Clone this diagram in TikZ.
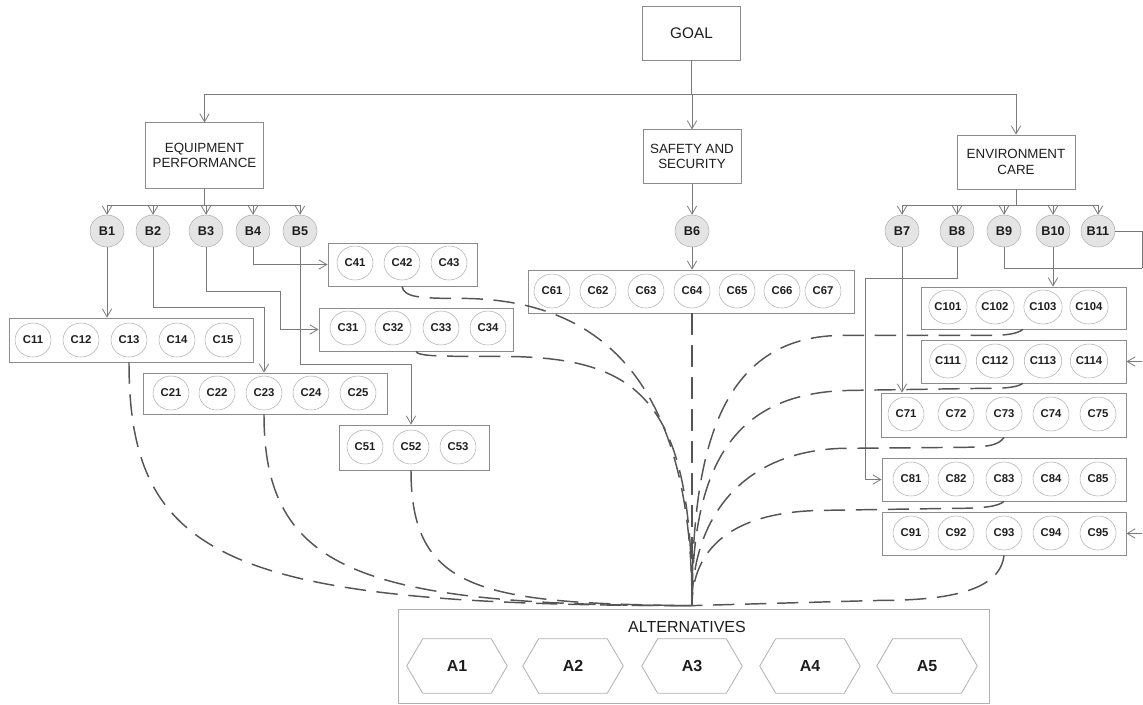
\documentclass[tikz,border=0pt]{standalone}
\usepackage{fontspec}
\setmainfont{Liberation Sans}
\usetikzlibrary{arrows.meta,calc,shapes.geometric}
\definecolor{linegray}{HTML}{7A7A7A}
\definecolor{boxgray}{HTML}{8C8C8C}
\definecolor{ringgray}{HTML}{B0B0B0}
\definecolor{bfill}{HTML}{E4E4E4}
\definecolor{dashgray}{HTML}{555555}
\definecolor{txt}{HTML}{1E1E1E}
\tikzset{
  every node/.style={text=txt},
  mainbox/.style={draw=boxgray, line width=0.6pt, rectangle, align=center, inner sep=0pt, font=\fontsize{10}{11.8}\selectfont},
  bnode/.style={draw=ringgray, fill=bfill, ellipse, minimum width=25.5pt, minimum height=24pt, inner sep=0pt, font=\bfseries\fontsize{9.5}{10}\selectfont},
  cnode/.style={draw=ringgray, ellipse, minimum width=27pt, minimum height=25.5pt, inner sep=0pt, font=\bfseries\fontsize{8.5}{9}\selectfont},
  cbox/.style={draw=boxgray, line width=0.6pt, rectangle, inner sep=0pt},
  conn/.style={draw=linegray, line width=0.6pt},
  arr/.style={conn, -{Straight Barb[length=6pt,width=7pt]}},
  dsh/.style={draw=dashgray, line width=1.1pt, dash pattern=on 16pt off 8pt},
  hexn/.style={minimum width=75pt, minimum height=40.5pt, inner sep=0pt, font=\bfseries\fontsize{12}{14}\selectfont},
  hexline/.style={draw=ringgray, line width=0.6pt},
}
\begin{document}
\begin{tikzpicture}[x=0.75pt, y=-0.75pt]
\useasboundingbox (0,0) rectangle (1143,704);

% top level
\node[mainbox, minimum width=74pt, minimum height=40.5pt, font=\fontsize{11.5}{13}\selectfont] (GOAL) at (691.5,33) {GOAL};
\node[mainbox, minimum width=89pt, minimum height=49pt] (EP) at (204.5,155.5) {EQUIPMENT\\PERFORMANCE};
\node[mainbox, minimum width=73.5pt, minimum height=40pt] (SAS) at (692,156.5) {SAFETY AND\\SECURITY};
\node[mainbox, minimum width=88.5pt, minimum height=40.5pt] (EC) at (1016,162) {ENVIRONMENT\\CARE};

\coordinate (busL) at (204.5,94);
\coordinate (busR) at (1016,94);
\draw[conn] (busL) -- (busR);
\draw[conn] (GOAL.south) -- (GOAL.south |- busL);
\draw[arr] (busL) -- (EP.north);
\draw[arr] (SAS.north |- busL) -- (SAS.north);
\draw[arr] (busR) -- (EC.north);

% B nodes
\foreach \n/\x in {1/107,2/153,3/206,4/253,5/300,6/692,7/902,8/957,9/1004,10/1053,11/1098}
  \node[bnode] (B\n) at (\x,231) {B\n};

\coordinate (epbus) at (0,205);
\draw[conn] (EP.south) -- (EP.south |- epbus);
\draw[conn] (B1.north |- epbus) -- (B5.north |- epbus);
\foreach \b in {B1,B2,B3,B4,B5} \draw[arr] (\b.north |- epbus) -- (\b.north);
\draw[conn] (EC.south) -- (EC.south |- epbus);
\draw[conn] (B7.north |- epbus) -- (B11.north |- epbus);
\foreach \b in {B7,B8,B9,B10,B11} \draw[arr] (\b.north |- epbus) -- (\b.north);
\draw[arr] (SAS.south) -- (B6.north);

% C boxes
\node[cbox, minimum width=183pt, minimum height=33pt] (C1box) at (131,340) {};
\node[cbox, minimum width=183pt, minimum height=30.75pt] (C2box) at (265,393.5) {};
\node[cbox, minimum width=145.5pt, minimum height=32.25pt] (C3box) at (416,329.5) {};
\node[cbox, minimum width=111.75pt, minimum height=32.25pt] (C4box) at (402.5,264.5) {};
\node[cbox, minimum width=112.5pt, minimum height=33.75pt] (C5box) at (414,447.5) {};
\node[cbox, minimum width=244.5pt, minimum height=32.25pt] (C6box) at (691,291.5) {};
\node[cbox, minimum width=153.75pt, minimum height=31.5pt] (C10box) at (1023.5,308) {};
\node[cbox, minimum width=153.75pt, minimum height=32.25pt] (C11box) at (1023.5,361.5) {};
\node[cbox, minimum width=183.75pt, minimum height=33pt] (C7box) at (1003.5,415) {};
\node[cbox, minimum width=183pt, minimum height=32.25pt] (C8box) at (1004,479.5) {};
\node[cbox, minimum width=183pt, minimum height=32.25pt] (C9box) at (1004,533.5) {};

% C circles
\foreach \n/\x in {11/33,12/81,13/129,14/177,15/223} \node[cnode] (C\n) at (\x,340) {C\n};
\foreach \n/\x in {21/171,22/217,23/264,24/311,25/358} \node[cnode] (C\n) at (\x,393) {C\n};
\foreach \n/\x in {31/348,32/393,33/441,34/488} \node[cnode] (C\n) at (\x,328) {C\n};
\foreach \n/\x in {41/355,42/402,43/449} \node[cnode] (C\n) at (\x,263) {C\n};
\foreach \n/\x in {51/365,52/411,53/458} \node[cnode] (C\n) at (\x,447) {C\n};
\foreach \n/\x in {61/552,62/598,63/646,64/692,65/737,66/782,67/823} \node[cnode] (C\n) at (\x,291) {C\n};
\foreach \n/\x in {101/948,102/995,103/1043,104/1089} \node[cnode] (C\n) at (\x,307) {C\n};
\foreach \n/\x in {111/948,112/995,113/1043,114/1089} \node[cnode] (C\n) at (\x,361) {C\n};
\foreach \n/\x in {71/906,72/956,73/1004,74/1051,75/1098} \node[cnode] (C\n) at (\x,414) {C\n};
\foreach \n/\x in {81/911,82/956,83/1004,84/1051,85/1098} \node[cnode] (C\n) at (\x,479) {C\n};
\foreach \n/\x in {91/911,92/956,93/1004,94/1051,95/1098} \node[cnode] (C\n) at (\x,533) {C\n};

% B to C connectors
\draw[arr] (B1) -- (B1 |- C1box.north);
\draw[arr] (B2.south) -- (B2.south |- 0,307) -| (C2box.north -| C23);
\draw[arr] (B3.south) -- (B3.south |- 0,291) -| ($(C3box.west)+(-38,0)$) -- (C3box.west);
\draw[arr] (B4.south) |- (C4box.west);
\draw[arr] (B5.south) -- (B5.south |- 0,364) -| (C5box.north -| C52);
\draw[arr] (B6) -- (B6 |- C6box.north);
\draw[arr] (B7) -- (B7 |- C7box.north);
\draw[arr] (B8.south) -- (B8.south |- 0,278) -| ($(C8box.west)+(-16,0)$) -- (C8box.west);
\coordinate (rt) at (1142,268);
\draw[conn] (B9.south) |- (rt);
\draw[conn] (B11.east) -| (rt);
\draw[arr] (B10) -- (B10 |- C10box.north);
\draw[arr] (C11box.east -| rt) -- (C11box.east);
\draw[arr] (C9box.east -| rt) -- (C9box.east);

% alternatives
\node[draw=ringgray, line width=0.6pt, minimum width=443.25pt, minimum height=70.5pt, inner sep=0pt] (alt) at (693.5,656) {};
\node[font=\fontsize{12}{14}\selectfont] (altlabel) at (687,627) {ALTERNATIVES};
\foreach \n/\x in {1/457,2/573,3/692,4/810,5/927} {
  \node[hexn] (A\n) at (\x,666) {A\n};
  \draw[hexline] (A\n.west) -- ($(A\n.north west)+(16,0)$) -- ($(A\n.north east)+(-16,0)$) -- (A\n.east) -- ($(A\n.south east)+(-16,0)$) -- ($(A\n.south west)+(16,0)$) -- cycle;
}
\coordinate (conv) at ($(alt.north -| A3)+(0,-3)$);

% dashed convergence curves
\draw[dsh] (C1box.south -| C13) .. controls +(0,198) and +(-462,0) .. (conv);
\draw[dsh] (C2box.south -| C23) .. controls +(0,156) and +(-332,0) .. (conv);
\draw[dsh] (C5box.south -| C52) .. controls +(0,120) and +(-212,-2) .. (conv);
\draw[dsh] (C4box.south -| C42) .. controls +(2,11) and +(-40,0) .. ++(58,12) .. controls +(140,0) and +(0,-226) .. (conv);
\draw[dsh] ($(C3box.south -| C32)+(23,0)$) .. controls +(2,5) and +(-60,0) .. ++(84,5) .. controls +(140,0) and +(0,-206) .. (conv);
\draw[dsh] (C6box.south -| C64) -- (conv);
\draw[dsh] ($(C10box.south -| C103)+(-20,0)$) .. controls +(-8,6) and +(20,0) .. ++(-43,6) -- ++(-140,0) .. controls +(-120,2) and +(0,-156) .. (conv);
\draw[dsh] ($(C11box.south -| C113)+(-20,0)$) .. controls +(-8,5) and +(20,0) .. ++(-43,5) -- ++(-130,2) .. controls +(-120,2) and +(0,-136) .. (conv);
\draw[dsh] (C7box.south -| C73) .. controls +(-6,9) and +(35,0) .. ++(-54,10) -- ++(-110,1) .. controls +(-100,4) and +(0,-86) .. (conv);
\draw[dsh] (C8box.south -| C83) .. controls +(-6,5) and +(35,0) .. ++(-54,7) -- ++(-130,2) .. controls +(-90,2) and +(0,-56) .. (conv);
\draw[dsh] (C9box.south -| C93) .. controls +(-4,35) and +(70,0) .. ++(-124,45) -- (conv);
\end{tikzpicture}
\end{document}
